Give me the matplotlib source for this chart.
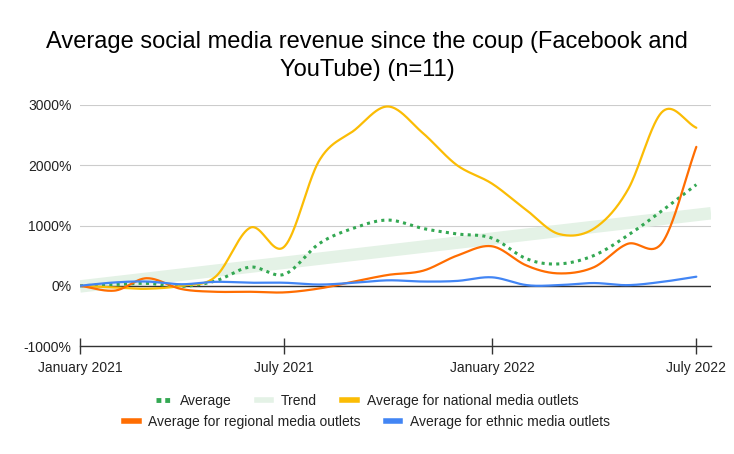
import numpy as np
import pandas as pd
import matplotlib
matplotlib.use('Agg')
import matplotlib.pyplot as plt
import matplotlib.dates as mdates
from matplotlib.lines import Line2D

plt.rcParams['font.family'] = ['Liberation Sans', 'DejaVu Sans']

# Monthly values (% change), Jan 2021 - Jul 2022
months = pd.date_range('2021-01-01', '2022-07-01', freq='MS')
average = [0, 20, 40, -10, 80, 310, 190, 700, 960, 1090, 950, 860, 790, 445, 362, 500, 833, 1250, 1678]
national = [0, -30, -50, 0, 150, 965, 650, 2080, 2580, 2975, 2530, 2000, 1695, 1250, 860, 945, 1583, 2890, 2622]
regional = [0, -80, 125, -55, -100, -100, -110, -45, 70, 180, 250, 500, 655, 333, 205, 305, 695, 720, 2305]
ethnic = [0, 55, 70, 25, 65, 50, 50, 20, 50, 90, 70, 80, 140, 10, 10, 45, 10, 65, 150]

tick_dates = ['2021-01-01', '2021-07-01', '2022-01-01', '2022-07-01']
tick_labels = ['January 2021', 'July 2021', 'January 2022', 'July 2022']
y_ticks = [-1000, 0, 1000, 2000, 3000]

green = '#34a853'
yellow = '#fbbc04'
orange = '#ff6d01'
blue = '#4285f4'
trend_col = '#e4f2e6'


# smoothed curve through the points (catmull-rom style)
def smooth(x, y, k=1 / 6, n=40):
    x = np.asarray(x, float)
    y = np.asarray(y, float)
    xs, ys = [], []
    m = len(x)
    for i in range(m - 1):
        a = max(i - 1, 0)
        b = min(i + 2, m - 1)
        f0 = k if i > 0 else k * 2
        f1 = k if i + 2 < m else k * 2
        c1 = y[i] + f0 * (y[i + 1] - y[a])
        c2 = y[i + 1] - f1 * (y[b] - y[i])
        t = np.linspace(0, 1, n)
        u = 1 - t
        xs.append(x[i] + t * (x[i + 1] - x[i]))
        ys.append(u**3 * y[i] + 3 * u**2 * t * c1 + 3 * u * t**2 * c2 + t**3 * y[i + 1])
    return np.concatenate(xs), np.concatenate(ys)


xnum = mdates.date2num(months)
x_lo = mdates.date2num(pd.Timestamp('2021-01-01'))
x_hi = mdates.date2num(pd.Timestamp('2022-07-14'))

fig = plt.figure(figsize=(7.34, 4.54), dpi=100)
ax = fig.add_axes([80 / 734, 1 - 346 / 454, 631 / 734, 241 / 454])

# trend line of the average
slope, icpt = np.polyfit(xnum, average, 1)
tx = np.array([x_lo, x_hi])
ax.plot(tx, slope * tx + icpt, color=trend_col, lw=9, solid_capstyle='butt', zorder=2)

ax.axhline(0, color='#333333', lw=1, zorder=3)

sx, sy = smooth(xnum, average)
ax.plot(sx, sy, color=green, lw=2.2, linestyle=(0, (1, 1.4)), dash_capstyle='butt', zorder=4)
for vals, col in [(national, yellow), (regional, orange), (ethnic, blue)]:
    sx, sy = smooth(xnum, vals)
    ax.plot(sx, sy, color=col, lw=1.6, zorder=5, solid_capstyle='round')

ax.set_xlim(x_lo, x_hi)
ax.set_ylim(-1000, 3000)
ax.set_yticks(y_ticks)
ax.set_yticklabels([f'{v}%' for v in y_ticks])
ax.set_xticks(mdates.date2num(pd.to_datetime(tick_dates)))
ax.set_xticklabels(tick_labels)
ax.yaxis.grid(True, color='#cccccc', lw=0.8, zorder=0)
ax.set_axisbelow(True)
for s in ['top', 'right', 'left']:
    ax.spines[s].set_visible(False)
ax.spines['bottom'].set_color('#333333')
ax.spines['bottom'].set_linewidth(1)
ax.tick_params(axis='y', length=0, pad=6, labelsize=10, labelcolor='#222222')
ax.tick_params(axis='x', direction='inout', length=11, width=1, color='#333333',
               pad=5, labelsize=10, labelcolor='#222222')

fig.text(0.5, 1 - 56 / 454, 'Average social media revenue since the coup (Facebook and\nYouTube) (n=11)',
         ha='center', va='center', fontsize=17, linespacing=1.3)

h1 = [Line2D([], [], color=green, lw=3.5, linestyle=(0, (1, 0.8)), dash_capstyle='butt'),
      Line2D([], [], color=trend_col, lw=4),
      Line2D([], [], color=yellow, lw=4)]
l1 = ['Average', 'Trend', 'Average for national media outlets']
h2 = [Line2D([], [], color=orange, lw=4),
      Line2D([], [], color=blue, lw=4)]
l2 = ['Average for regional media outlets', 'Average for ethnic media outlets']
leg_kw = dict(frameon=False, fontsize=10, handlelength=1.05, handletextpad=0.7,
              columnspacing=1.8, labelcolor='#222222')
fig.legend(h1, l1, loc='center', bbox_to_anchor=(0.5, 1 - 401 / 454), ncol=3, **leg_kw)
fig.legend(h2, l2, loc='center', bbox_to_anchor=(0.5, 1 - 422 / 454), ncol=2, **leg_kw)

fig.savefig('out.png', dpi=100)
